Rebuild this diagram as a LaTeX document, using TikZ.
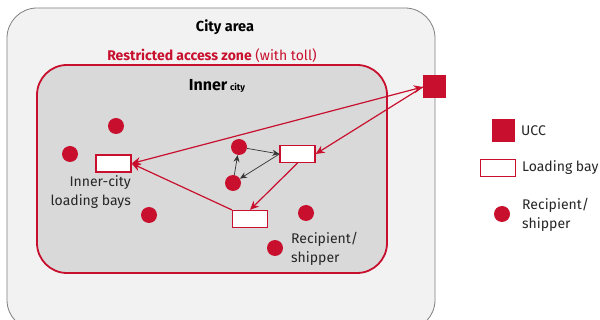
\documentclass[tikz,border=0pt]{standalone}
\usepackage{fontspec}
\setmainfont{Fira Sans}
\usetikzlibrary{arrows.meta}
\definecolor{zred}{RGB}{200,16,46}
\definecolor{outerfill}{RGB}{242,242,242}
\definecolor{innerfill}{RGB}{217,217,217}
\definecolor{outerline}{RGB}{128,128,128}
\begin{document}
\begin{tikzpicture}[x=1pt,y=-1pt,
  dot/.style={circle,fill=zred,inner sep=0pt,minimum size=16pt},
  bay/.style={rectangle,draw=zred,line width=1.2pt,fill=white,inner sep=0pt,minimum width=35pt,minimum height=17pt},
  uccbox/.style={rectangle,fill=zred,inner sep=0pt,minimum size=23pt},
  lbl/.style={font=\fontsize{14}{18.5}\selectfont,text=black!85,inner sep=0pt},
  redarrow/.style={draw=zred,line width=1.2pt,-{Stealth[length=9pt,width=8pt]}},
  blkarrow/.style={draw=black!80,line width=0.7pt,-{Stealth[length=7pt,width=6pt]}}]
\clip (0,0) rectangle (600,320);
\fill[white] (0,0) rectangle (600,320);
% city area
\node[draw=outerline,fill=outerfill,line width=0.8pt,rounded corners=30pt,minimum width=428pt,minimum height=322pt,inner sep=0pt] (city) at (221,169) {};
\node[font=\bfseries\fontsize{14.5}{16}\selectfont,inner sep=0pt] (citylbl) at (225,27) {City area};
% restricted zone
\node[draw=zred,fill=innerfill,line width=1.8pt,rounded corners=30pt,minimum width=350pt,minimum height=208pt,inner sep=0pt] (zone) at (212,169) {};
\node[font=\fontsize{14}{16}\selectfont,text=zred,inner sep=0pt] (zonelbl) at (212,56) {\textbf{Restricted access zone} (with toll)};
\node[inner sep=0pt] (innerlbl) at (217,86) {\bfseries\fontsize{16}{18}\selectfont Inner\,{\fontsize{9}{10}\selectfont city}};
% UCC
\node[uccbox] (ucc) at (434.5,87) {};
% loading bays
\node[bay] (bayL) at (113.5,163.5) {};
\node[bay] (bayR) at (297.5,154) {};
\node[bay] (bayB) at (250,219) {};
% dots
\node[dot] (d1) at (116,126) {};
\node[dot] (d2) at (70,154) {};
\node[dot] (d3) at (149,215) {};
\node[dot] (d4) at (239,147) {};
\node[dot] (d5) at (233,183) {};
\node[dot] (d6) at (306,213) {};
\node[dot] (d7) at (275,248) {};
% labels
\node[lbl,anchor=east,align=right] (bayLlbl) at (131,192) {Inner-city\\loading bays};
\node[lbl,anchor=west,align=left] (d7lbl) at (291,249) {Recipient/\\shipper};
% red arrows
\draw[redarrow,{Stealth[length=9pt,width=8pt]}-{Stealth[length=9pt,width=8pt]}] (bayL.east) -- (ucc.west);
\draw[redarrow] (ucc.west) -- (bayR.east);
\draw[redarrow] (bayR.south) -- (bayB.north);
\draw[redarrow] (bayB.north west) -- (bayL.east);
% black arrows
\draw[blkarrow] (d4) -- (bayR.west);
\draw[blkarrow] (bayR.west) -- (d5);
\draw[blkarrow] (d5) -- (d4);
% legend
\node[uccbox] (lgucc) at (503,131) {};
\node[lbl,anchor=west] (lguccl) at (521,131) {UCC};
\node[bay] (lgbay) at (498,168) {};
\node[lbl,anchor=west] (lgbayl) at (522,168) {Loading bay};
\node[dot] (lgdot) at (502,214) {};
\node[lbl,anchor=west,align=left] (lgdotl) at (522,215) {Recipient/\\shipper};
\end{tikzpicture}
\end{document}
